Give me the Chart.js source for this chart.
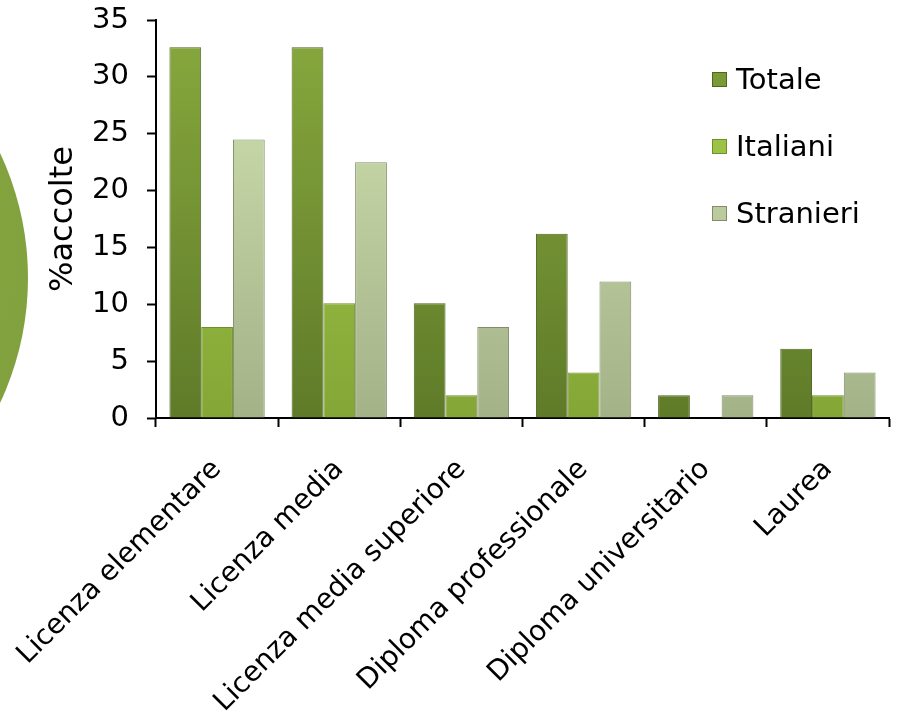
<!DOCTYPE html>
<html>
<head>
<meta charset="utf-8">
<script src="https://cdn.jsdelivr.net/npm/chart.js@4/dist/chart.umd.min.js"></script>
<style>
  html, body { margin: 0; padding: 0; background: #fff; overflow: hidden; }
  #wrap { position: relative; width: 899px; height: 717px; }
  #blob {
    position: absolute; left: -558px; top: -15px; width: 586px; height: 586px; border-radius: 50%;
    background: radial-gradient(circle at 60% 45%, #8cad46 0%, #7c9c3a 75%, #67862c 100%);
  }
  canvas { position: absolute; left: 0; top: 0; }
</style>
</head>
<body>
<div id="wrap">
  <div id="blob"></div>
  <canvas id="chart" width="899" height="717"></canvas>
</div>
<script>
// data
var categories = ['Licenza elementare', 'Licenza media', 'Licenza media superiore',
                  'Diploma professionale', 'Diploma universitario', 'Laurea'];
var totale    = [32.6, 32.6, 10.1, 16.2, 2.0, 6.1];
var italiani  = [8.0, 10.1, 2.0, 4.0, 0, 2.0];
var stranieri = [24.5, 22.5, 8.0, 12.0, 2.0, 4.0];
var yTicks = [0, 5, 10, 15, 20, 25, 30, 35];

var FONT = 'DejaVu Sans, Verdana, sans-serif';

function grad(top, bottom) {
  return function (ctx) {
    var chart = ctx.chart;
    var area = chart.chartArea;
    if (!area) return bottom;
    var g = chart.ctx.createLinearGradient(0, area.top, 0, area.bottom);
    g.addColorStop(0, top);
    g.addColorStop(1, bottom);
    return g;
  };
}

// legend drawn inside the plot, as in the picture
var sideLegend = {
  id: 'sideLegend',
  afterDraw: function (chart) {
    var c = chart.ctx;
    var ys = [80, 147, 214];
    c.save();
    c.font = '29px ' + FONT;
    c.textBaseline = 'middle';
    chart.data.datasets.forEach(function (ds, i) {
      c.fillStyle = ds.legendColor;
      c.fillRect(712, ys[i] - 8, 15, 15);
      c.strokeStyle = ds.borderColor;
      c.lineWidth = 1;
      c.strokeRect(712.5, ys[i] - 7.5, 14, 14);
      c.fillStyle = '#000';
      c.fillText(ds.label, 736, ys[i] + 1);
    });
    c.restore();
  }
};

new Chart(document.getElementById('chart'), {
  type: 'bar',
  data: {
    labels: categories,
    datasets: [
      { label: 'Totale', data: totale, backgroundColor: grad('#88a93e', '#5f7b29'),
        borderColor: '#4d6620', borderWidth: 1, legendColor: '#7a9a36' },
      { label: 'Italiani', data: italiani, backgroundColor: grad('#a6cf4e', '#84a636'),
        borderColor: '#6f8f2a', borderWidth: 1, legendColor: '#9cc246' },
      { label: 'Stranieri', data: stranieri, backgroundColor: grad('#d2e4b2', '#a4b288'),
        borderColor: '#7f8e68', borderWidth: 1, legendColor: '#bccb9e' }
    ]
  },
  options: {
    responsive: false,
    animation: false,
    layout: { padding: { top: 20, right: 10, left: 0, bottom: 0 } },
    datasets: { bar: { categoryPercentage: 0.78, barPercentage: 1.0 } },
    plugins: { legend: { display: false }, tooltip: { enabled: false } },
    scales: {
      x: {
        grid: { drawOnChartArea: false, color: '#000', tickLength: 9, tickWidth: 2 },
        border: { color: '#000', width: 2 },
        ticks: { color: '#000', font: { family: FONT, size: 28 }, maxRotation: 45, minRotation: 45, padding: 26 },
        afterFit: function (s) {
          s.height = 299;
          s.paddingLeft = 0; s.paddingRight = 0;
        }
      },
      y: {
        min: 0, max: 35,
        afterBuildTicks: function (s) { s.ticks = yTicks.map(function (v) { return { value: v }; }); },
        grid: { drawOnChartArea: false, color: '#000', tickLength: 9, tickWidth: 2 },
        border: { color: '#000', width: 2 },
        ticks: { color: '#000', font: { family: FONT, size: 29 }, padding: 18 },
        title: { display: true, text: '%accolte', color: '#000', font: { family: FONT, size: 32 }, padding: { top: 44 } },
        afterFit: function (s) {
          s.width = 156;
          s.paddingTop = 0; s.paddingBottom = 0;
        }
      }
    }
  },
  plugins: [sideLegend]
});
</script>
</body>
</html>
